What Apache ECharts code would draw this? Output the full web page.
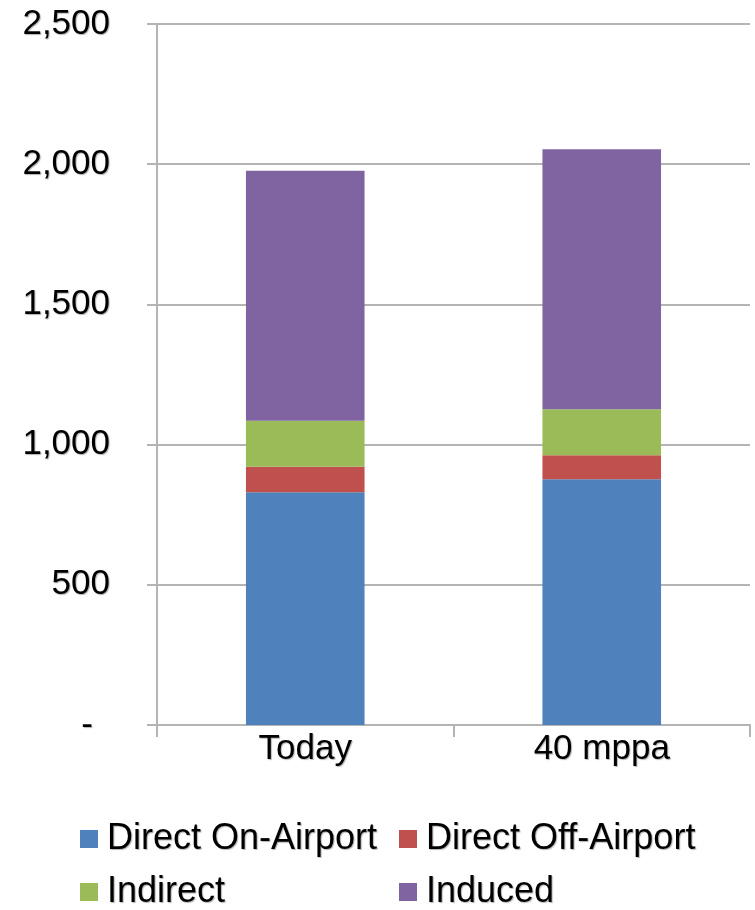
<!DOCTYPE html>
<html>
<head>
<meta charset="utf-8">
<script src="https://cdn.jsdelivr.net/npm/echarts@6/dist/echarts.min.js"></script>
<style>
  html, body { margin: 0; padding: 0; background: #fff; }
  #chart { width: 755px; height: 910px; }
</style>
</head>
<body>
<div id="chart"></div>
<script>
// Employment by category (stacked)
const categories = ['Today', '40 mppa'];
const directOnAirport = [830, 876];
const directOffAirport = [91, 86];
const indirect = [164, 164];
const induced = [892, 927];
const yTicks = [0, 500, 1000, 1500, 2000, 2500];

const seriesNames = ['Direct On-Airport', 'Direct Off-Airport', 'Indirect', 'Induced'];
const seriesData = [directOnAirport, directOffAirport, indirect, induced];
const colors = ['#4F81BD', '#C0504D', '#9BBB59', '#8064A2'];

const font = '"Liberation Sans", Arial, sans-serif';
const gray = '#b4b4b4';
const ink = '#000';
const shadow = {
  textShadowColor: 'rgba(0,0,0,0.3)',
  textShadowBlur: 1,
  textShadowOffsetX: 1,
  textShadowOffsetY: 1
};

// legend slots: two columns, two rows
const legendPos = [
  { left: 80, top: 821 },
  { left: 399, top: 821 },
  { left: 80, top: 874 },
  { left: 399, top: 874 }
];

const chart = echarts.init(document.getElementById('chart'), null, { renderer: 'canvas' });

chart.setOption({
  animation: false,
  color: colors,
  grid: { left: 157, right: 5, top: 24, bottom: 185, containLabel: false },
  legend: seriesNames.map(function (name, i) {
    return {
      data: [name],
      left: legendPos[i].left,
      top: legendPos[i].top,
      padding: 0,
      itemWidth: 18,
      itemHeight: 18,
      icon: 'rect',
      textStyle: Object.assign({
        color: ink,
        fontFamily: font,
        fontSize: 36,
        padding: [0, 0, 0, 4]
      }, shadow)
    };
  }),
  xAxis: {
    type: 'category',
    data: categories,
    boundaryGap: true,
    axisLine: { show: true, lineStyle: { color: gray, width: 2 } },
    axisTick: { show: true, alignWithLabel: false, length: 12, lineStyle: { color: gray, width: 2 } },
    axisLabel: Object.assign({ color: ink, fontFamily: font, fontSize: 35, margin: 7 }, shadow)
  },
  yAxis: {
    type: 'value',
    min: yTicks[0],
    max: yTicks[yTicks.length - 1],
    interval: 500,
    axisLine: { show: true, lineStyle: { color: gray, width: 2 } },
    axisTick: { show: true, length: 10, lineStyle: { color: gray, width: 2 } },
    splitLine: { show: true, lineStyle: { color: gray, width: 2 } },
    axisLabel: Object.assign({
      color: ink,
      fontFamily: font,
      fontSize: 35,
      margin: 47,
      formatter: function (v) {
        return v === 0 ? '{d|-}' : v.toLocaleString('en-US');
      },
      rich: {
        d: Object.assign({ color: ink, fontFamily: font, fontSize: 35, padding: [0, 17, 0, 0] }, shadow)
      }
    }, shadow)
  },
  series: seriesNames.map(function (name, i) {
    return {
      name: name,
      type: 'bar',
      stack: 'total',
      barWidth: '40%',
      data: seriesData[i],
      itemStyle: { color: colors[i] }
    };
  })
});
</script>
</body>
</html>
